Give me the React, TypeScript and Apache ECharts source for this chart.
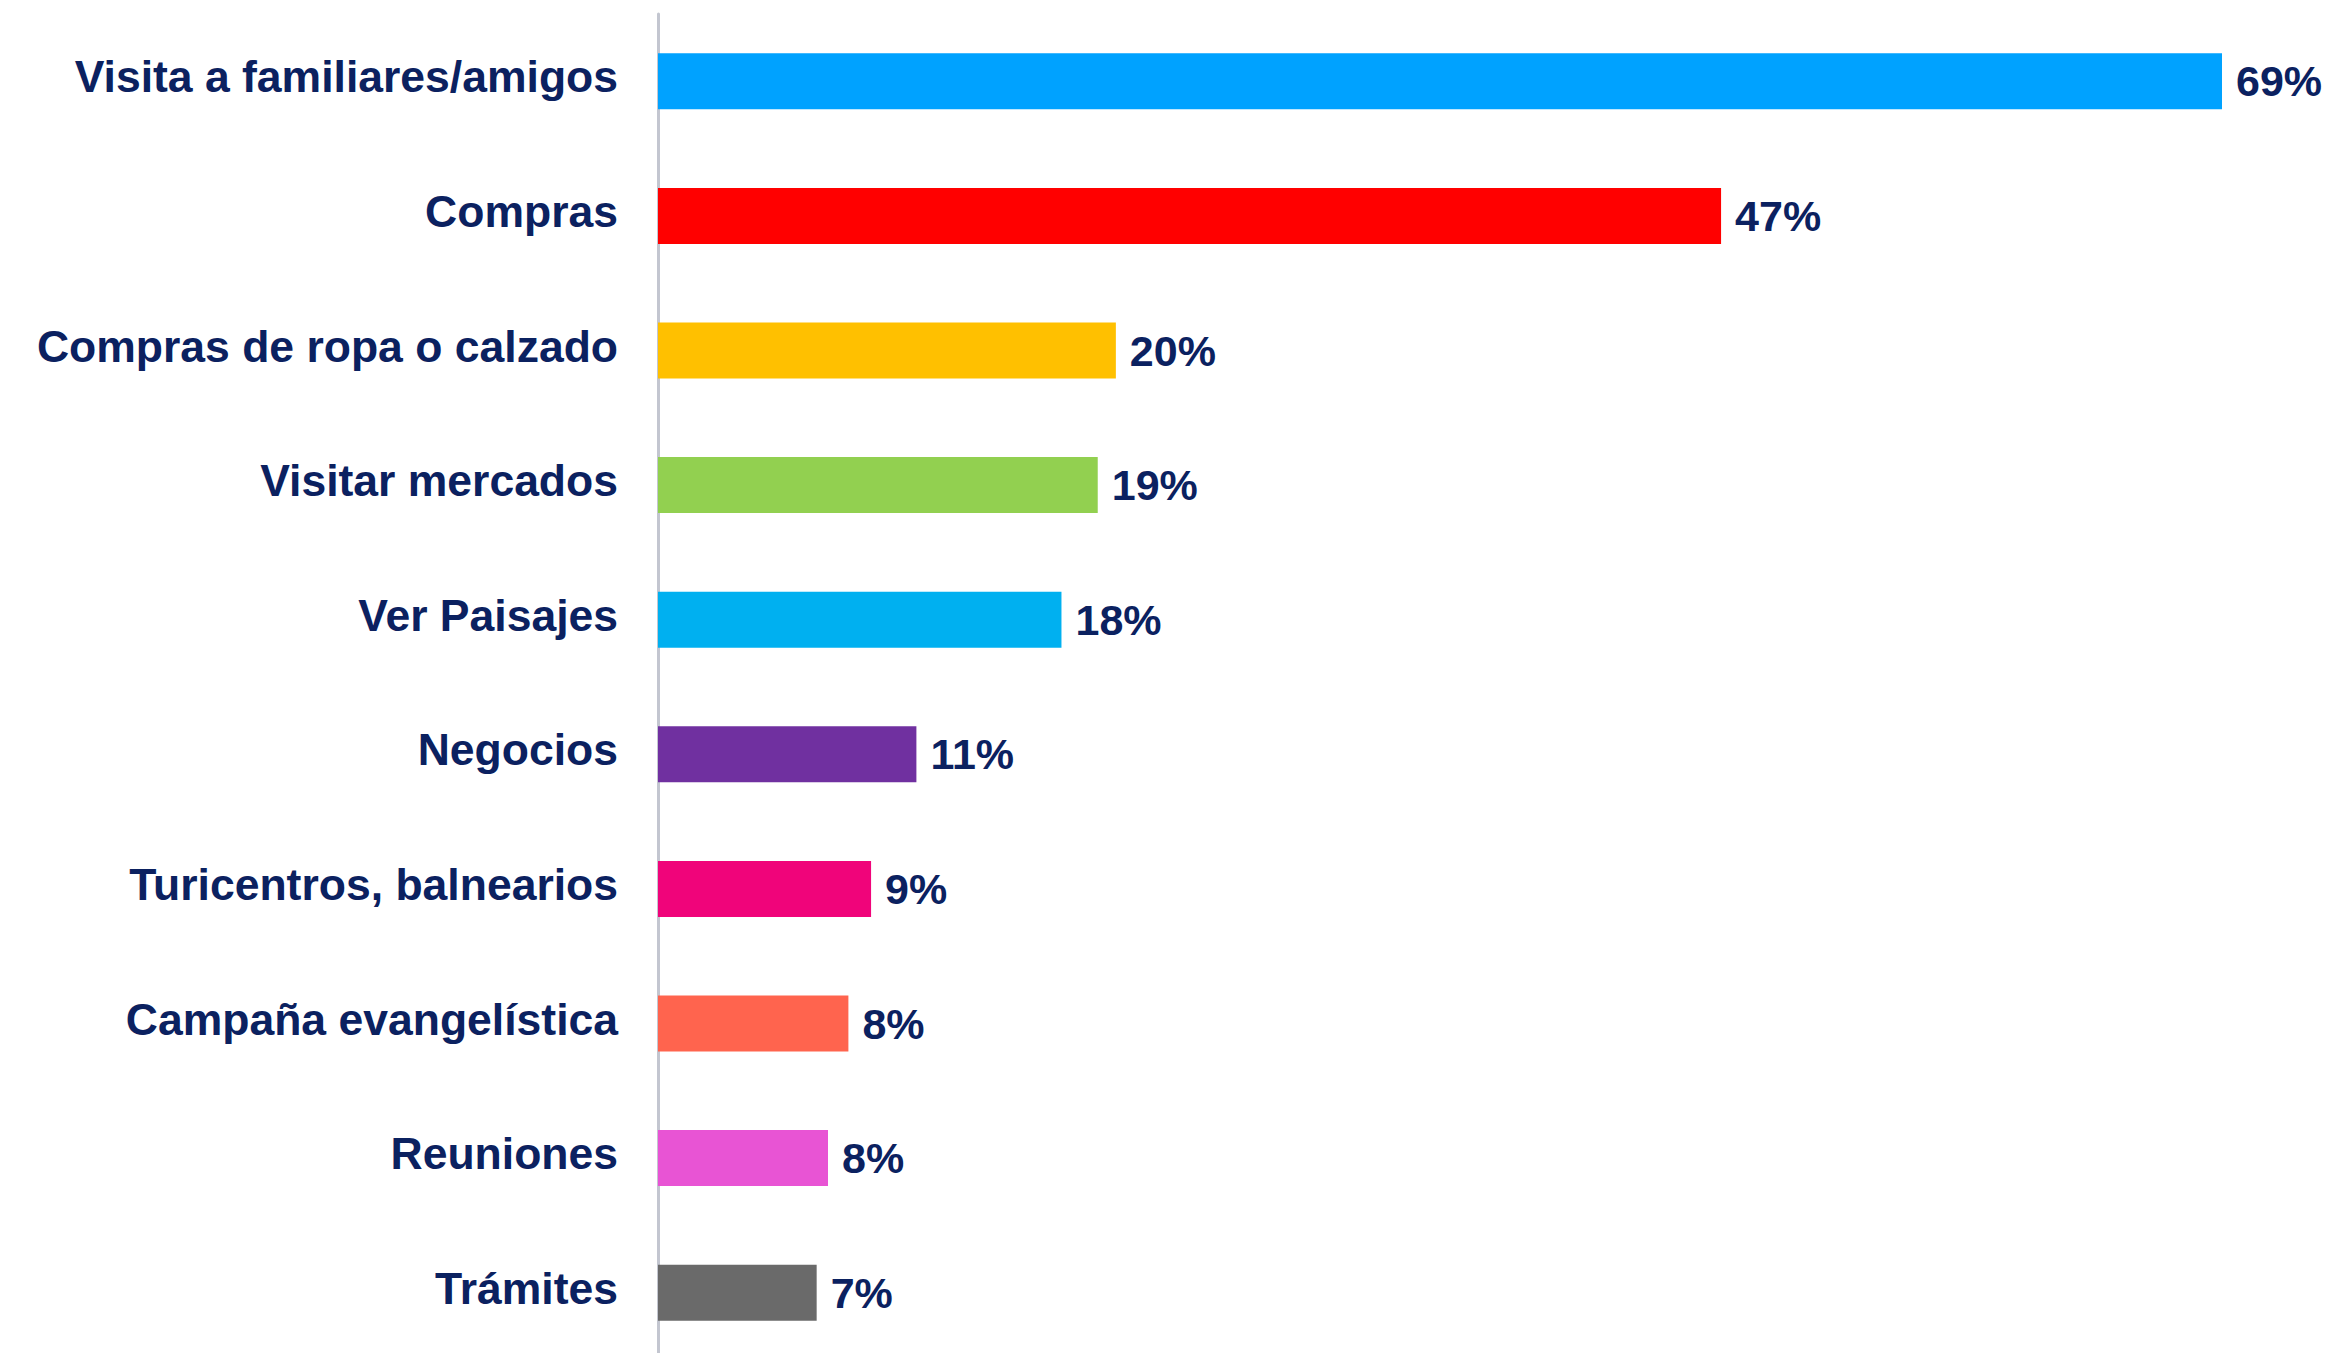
import React, { useEffect, useRef } from "react";
import * as echarts from "echarts";

const categories = [
  "Visita a familiares/amigos",
  "Compras",
  "Compras de ropa o calzado",
  "Visitar mercados",
  "Ver Paisajes",
  "Negocios",
  "Turicentros, balnearios",
  "Campaña evangelística",
  "Reuniones",
  "Trámites",
];
// Percentages (labels show them rounded)
const values = [69.0, 46.9, 20.2, 19.4, 17.8, 11.4, 9.4, 8.4, 7.5, 7.0];
const barColors = [
  "#00A2FF",
  "#FF0000",
  "#FFC000",
  "#92D050",
  "#00B0F0",
  "#7030A0",
  "#F0047A",
  "#FF644E",
  "#E854D4",
  "#6A6A6A",
];

const TEXT_COLOR = "#0B2160";
const FONT = "'Liberation Sans', Arial, sans-serif";

export default function App() {
  const ref = useRef<HTMLDivElement>(null);
  useEffect(() => {
    if (!ref.current) return;
    const chart = echarts.init(ref.current, undefined, { renderer: "svg" });
    chart.setOption({
      animation: false,
      backgroundColor: "#ffffff",
      grid: {
        left: 658,
        right: 46,
        top: 14,
        bottom: -7,
        containLabel: false,
        outerBoundsMode: "none",
      },
      xAxis: {
        type: "value",
        min: 0,
        max: 72,
        show: false,
        splitLine: { show: false },
      },
      yAxis: {
        type: "category",
        inverse: true,
        data: categories,
        axisLine: { show: true, lineStyle: { color: "#C3C6D0", width: 3 } },
        axisTick: { show: false },
        axisLabel: {
          margin: 40,
          color: TEXT_COLOR,
          fontFamily: FONT,
          fontWeight: "bold",
          fontSize: 44.5,
          formatter: (v: string) => "{c|" + v + "}",
          rich: {
            c: {
              color: TEXT_COLOR,
              fontFamily: FONT,
              fontWeight: "bold",
              fontSize: 44.5,
              padding: [0, 0, 9, 0],
            },
          },
        },
      },
      series: [
        {
          type: "bar",
          data: values.map((v, i) => ({ value: v, itemStyle: { color: barColors[i] } })),
          barWidth: 56,
          label: {
            show: true,
            position: "right",
            distance: 14,
            formatter: (p: any) => Math.round(p.value) + "%",
            color: TEXT_COLOR,
            fontFamily: FONT,
            fontWeight: "bold",
            fontSize: 43,
          },
        },
      ],
    });
    return () => chart.dispose();
  }, []);
  return (
    <div
      ref={ref}
      style={{ position: "absolute", left: 0, top: 0, width: 2336, height: 1353 }}
    />
  );
}
